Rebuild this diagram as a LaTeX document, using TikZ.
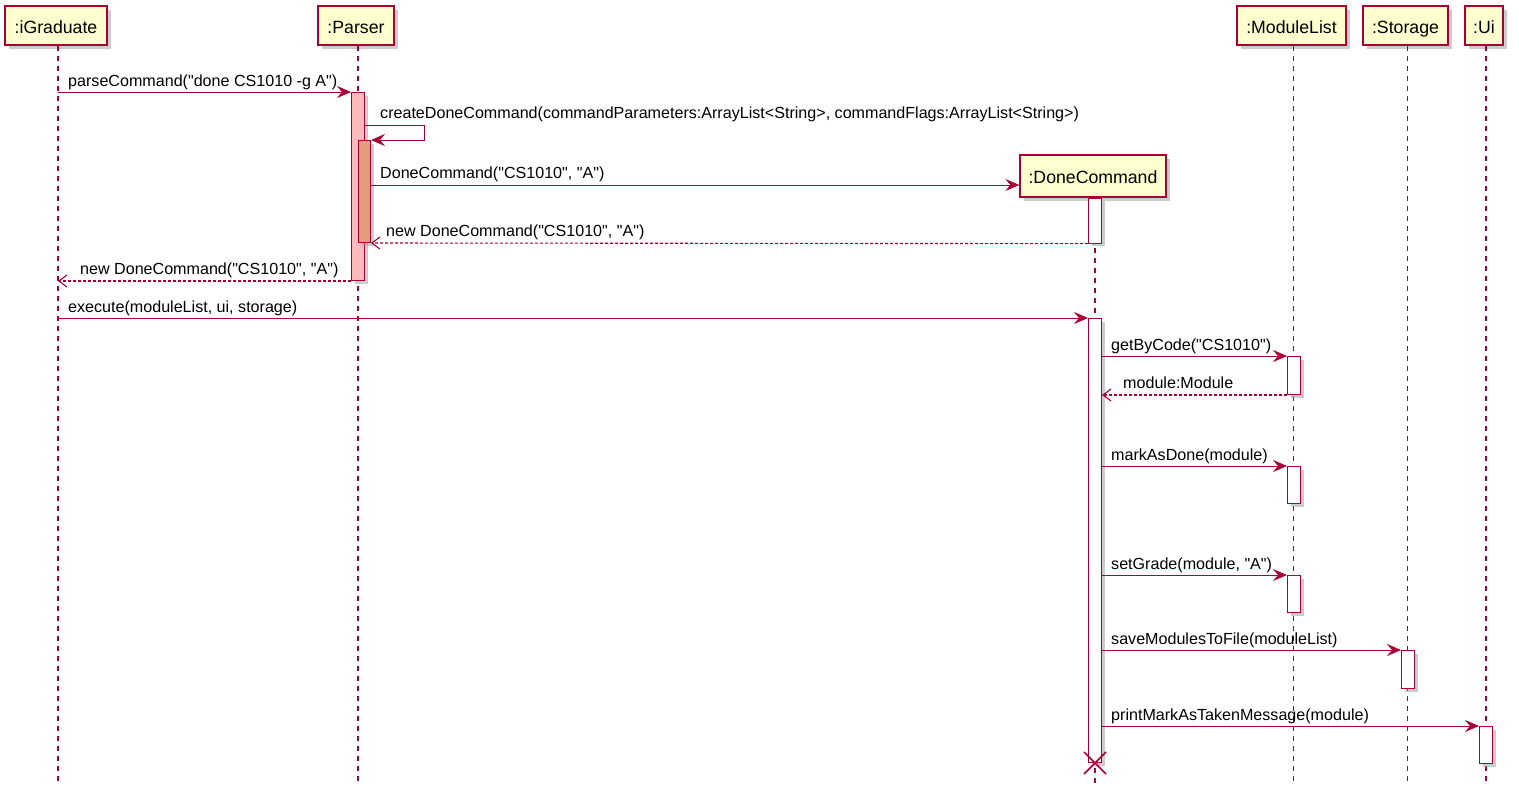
\documentclass[tikz,border=0pt]{standalone}
\usepackage{fontspec}
\setmainfont{Liberation Sans}[Ligatures=TeXReset]
\usepackage{tikz}
\usetikzlibrary{arrows.meta, positioning, shadows}
\definecolor{umlred}{HTML}{A80036}
\definecolor{umlbox}{HTML}{FEFECE}
\definecolor{actpink}{HTML}{FFBBBB}
\definecolor{actsalmon}{HTML}{E59A7D}
\tikzset{
  party/.style={draw=umlred, line width=1.3pt, fill=umlbox, minimum height=39pt, inner sep=0pt,
    text height=15.7pt, text depth=0pt, font=\fontsize{17.7}{20}\selectfont,
    drop shadow={shadow xshift=4pt, shadow yshift=-4pt, fill=black!40, opacity=0.5}},
  life/.style={draw=umlred, line width=1.1pt, dash pattern=on 5pt off 5pt},
  actbar/.style={draw=umlred, line width=1pt, fill=white, minimum width=13pt, inner sep=0pt,
    drop shadow={shadow xshift=3pt, shadow yshift=-3pt, fill=black!40, opacity=0.5}},
  msg/.style={draw=umlred, line width=1pt, -{Stealth[length=14pt, width=12pt, inset=5pt]}},
  ret/.style={draw=umlred, line width=1.1pt, dash pattern=on 3pt off 2pt,
    -{Straight Barb[length=8pt, width=12pt]}},
  lbl/.style={anchor=base west, inner sep=0pt, font=\fontsize{16.1}{18}\selectfont}
}
\begin{document}
\begin{tikzpicture}[x=1pt, y=-1pt]
  \useasboundingbox (0,0) rectangle (1519,793);
  \coordinate (bottom) at (0,783);

  % participants
  \node[party, minimum width=102pt] (igrad) at (56,25.5) {:iGraduate};
  \node[party, minimum width=76pt] (parser) at (356,25.5) {:Parser};
  \node[party, minimum width=109pt] (mlist) at (1291.5,25.5) {:ModuleList};
  \node[party, minimum width=85pt] (storage) at (1405.5,25.5) {:Storage};
  \node[party, minimum width=38pt] (ui) at (1484,25.5) {:Ui};
  \node[party, minimum width=146pt, minimum height=42pt] (dc) at (1093,176) {:DoneCommand};

  % lifelines
  \draw[life] ([xshift=2pt]igrad.south) -- ([xshift=2pt]igrad.south |- bottom);
  \draw[life] ([xshift=2pt]parser.south) -- ([xshift=2pt]parser.south |- bottom);
  \draw[life] ([xshift=2pt]mlist.south) -- ([xshift=2pt]mlist.south |- bottom);
  \draw[life] ([xshift=2pt]storage.south) -- ([xshift=2pt]storage.south |- bottom);
  \draw[life] ([xshift=2pt]ui.south) -- ([xshift=2pt]ui.south |- bottom);
  \draw[life] ([xshift=2pt]dc.south) -- ([xshift=2pt, yshift=-2pt]dc.south |- bottom);

  % activation bars
  \node[actbar, fill=actpink, minimum height=188pt, anchor=north] (pa) at (358,92) {};
  \node[actbar, fill=actsalmon, minimum width=12pt, minimum height=102pt, anchor=north west] (pb) at (358,140) {};
  \node[actbar, minimum height=45pt, anchor=north] (da) at ([xshift=2pt]dc.south) {};
  \node[actbar, minimum height=444pt, anchor=north] (db) at (1095,318) {};
  \node[actbar, minimum height=38pt, anchor=north] (m1) at (1294,356) {};
  \node[actbar, minimum height=37pt, anchor=north] (m2) at (1294,466) {};
  \node[actbar, minimum height=37pt, anchor=north] (m3) at (1294,575) {};
  \node[actbar, minimum height=38pt, anchor=north] (s1) at (1408,650) {};
  \node[actbar, minimum height=37pt, anchor=north] (u1) at (1486,726) {};

  % messages
  \draw[msg] ([xshift=2pt]igrad.south |- pa.north) -- (pa.north west);
  \draw[msg] (pa.east |- 0,125) -- (424,125) -- (424,140) -- (pb.north east);
  \draw[msg] (pb.east |- 0,185) -- (dc.west |- 0,185);
  \draw[ret] (da.south west) -- (pb.south east);
  \draw[ret] (pa.south west) -- ([xshift=2pt]igrad.south |- pa.south);
  \draw[msg] ([xshift=2pt]igrad.south |- db.north) -- (db.north west);
  \draw[msg] (db.east |- m1.north) -- (m1.north west);
  \draw[ret] (m1.south west) -- (db.east |- m1.south);
  \draw[msg] (db.east |- m2.north) -- (m2.north west);
  \draw[msg] (db.east |- m3.north) -- (m3.north west);
  \draw[msg] (db.east |- s1.north) -- (s1.north west);
  \draw[msg] (db.east |- u1.north) -- (u1.north west);

  % destroy mark
  \draw[umlred, line width=1.6pt] (db.south) ++(-11,-11) -- ++(22,22);
  \draw[umlred, line width=1.6pt] (db.south) ++(-11,11) -- ++(22,-22);

  % message labels
  \node[lbl] (t1) at (68,86) {parseCommand("done CS1010 -g A")};
  \node[lbl] (t2) at (380,118.5) {createDoneCommand(commandParameters:ArrayList<String>, commandFlags:ArrayList<String>)};
  \node[lbl] (t3) at (380,178.5) {DoneCommand("CS1010", "A")};
  \node[lbl] (t4) at (386,236.5) {new DoneCommand("CS1010", "A")};
  \node[lbl] (t5) at (80,274.5) {new DoneCommand("CS1010", "A")};
  \node[lbl] (t6) at (68,312) {execute(moduleList, ui, storage)};
  \node[lbl] (t7) at (1111,350.5) {getByCode("CS1010")};
  \node[lbl] (t8) at (1123,388.5) {module:Module};
  \node[lbl] (t9) at (1111,460) {markAsDone(module)};
  \node[lbl] (t10) at (1111,569) {setGrade(module, "A")};
  \node[lbl] (t11) at (1111,644) {saveModulesToFile(moduleList)};
  \node[lbl] (t12) at (1111,720) {printMarkAsTakenMessage(module)};
\end{tikzpicture}
\end{document}
